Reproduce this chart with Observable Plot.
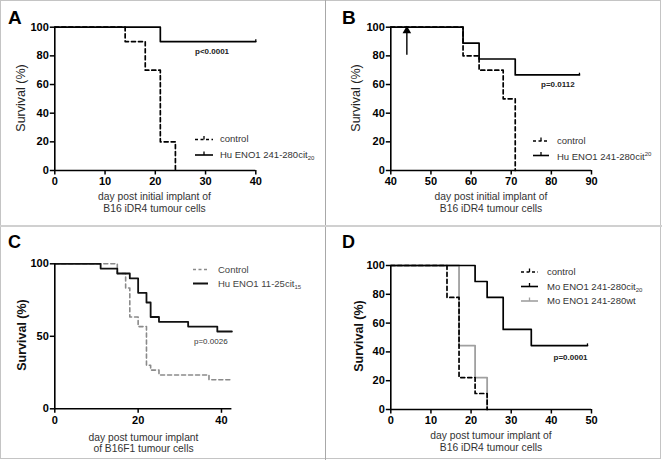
<!DOCTYPE html>
<html><head><meta charset="utf-8">
<script src="https://cdn.jsdelivr.net/npm/d3@7"></script>
<script src="https://cdn.jsdelivr.net/npm/@observablehq/plot@0.6"></script>
<style>
body{margin:0;background:#fff;}
#fig{position:relative;width:662px;height:460px;overflow:hidden;background:#fff;font-family:"Liberation Sans",Arial,Helvetica,sans-serif;}
.abs{position:absolute;white-space:nowrap;line-height:1;}
.pnl{position:absolute;}
.pnl svg{display:block;overflow:visible;}
</style></head><body><div id="fig"></div>
<script>
// ---------- DATA ----------
// Panel A
const aControlDay = [0, 14, 18, 21, 24];
const aControlSurv = [100, 90, 70, 20, 0];
const aTreatDay = [0, 21, 40];
const aTreatSurv = [100, 90, 90];
const aXTicks = [0, 10, 20, 30, 40];
const aYTicks = [0, 20, 40, 60, 80, 100];
const aLegend = ["control", "Hu ENO1 241-280cit"];
const aP = "p<0.0001";
const abXTitle = ["day post initial implant of", "B16 iDR4 tumour cells"];

// Panel B
const bControlDay = [40, 58, 62, 68, 71];
const bControlSurv = [100, 80, 70, 50, 0];
const bTreatDay = [40, 58, 62, 71, 87];
const bTreatSurv = [100, 88.9, 77.8, 66.7, 66.7];
const bXTicks = [40, 50, 60, 70, 80, 90];
const bYTicks = [0, 20, 40, 60, 80, 100];
const bArrowDay = 44, bArrowFrom = 84, bArrowTo = 100;
const bLegend = ["control", "Hu ENO1 241-280cit"];
const bP = "p=0.0112";

// Panel C
const cControlDay = [0, 15, 17, 18, 20, 22, 23, 25, 37, 42.5];
const cControlSurv = [100, 93.3, 83.3, 63.3, 56.7, 30, 26.7, 23.3, 20, 20];
const cTreatDay = [0, 11, 15, 18, 20, 22, 23, 25, 32, 39, 42.5];
const cTreatSurv = [100, 96.7, 93.3, 90, 80, 73.3, 63.3, 60, 56.7, 53.3, 53.3];
const cXTicks = [0, 20, 40];
const cYTicks = [0, 50, 100];
const cLegend = ["Control", "Hu ENO1 11-25cit"];
const cP = "p=0.0026";
const cXTitle = ["day post tumour implant", "of B16F1 tumour cells"];

// Panel D
const dControlDay = [0, 14, 17, 21, 24];
const dControlSurv = [100, 77.8, 22.2, 11.1, 0];
const dCitDay = [0, 21, 24, 28, 35, 49];
const dCitSurv = [100, 88.9, 77.8, 55.6, 44.4, 44.4];
const dWtDay = [0, 17, 21, 24];
const dWtSurv = [100, 44.4, 22.2, 0];
const dXTicks = [0, 10, 20, 30, 40, 50];
const dYTicks = [0, 20, 40, 60, 80, 100];
const dLegend = ["control", "Mo ENO1 241-280cit", "Mo ENO1 241-280wt"];
const dP = "p=0.0001";
const dXTitle = ["day post tumour implant of", "B16 iDR4 tumour cells"];

const yTitle = "Survival (%)";
const letters = ["A", "B", "C", "D"];

// ---------- HELPERS ----------
const FONT = '"Liberation Sans", Arial, Helvetica, sans-serif';
const fig = d3.select("#fig");
const rows = (days, surv) => days.map((d, i) => ({x: d, y: surv[i]}));
const censorTick = {draw(ctx, size) { const l = Math.sqrt(size / Math.PI); ctx.moveTo(0, 0); ctx.lineTo(0, -l); }};

function makePanel(cfg) {
  const [L, T, W, H] = cfg.box;
  const [x0, y0, x1, y1] = cfg.area;
  const marks = [];
  for (const s of cfg.series) {
    marks.push(Plot.line(rows(s.days, s.surv), {
      x: "x", y: "y", curve: "step-after", stroke: s.color, strokeWidth: s.width || 1.7,
      strokeDasharray: s.dash || null
    }));
  }
  for (const s of cfg.series) {
    if (s.censor) {
      const n = s.days.length - 1;
      marks.push(Plot.dot([{x: s.days[n], y: s.surv[n]}], {x: "x", y: "y", symbol: censorTick, r: 2.2, stroke: s.color, strokeWidth: 1.3, fill: "none"}));
    }
  }
  if (cfg.extra) marks.push(...cfg.extra);
  marks.push(Plot.ruleY([0], {x1: cfg.xDomain[0], x2: cfg.xDomain[1], stroke: "black", strokeWidth: 1.6}));
  marks.push(Plot.ruleX([cfg.xDomain[0]], {y1: 0, y2: 100, stroke: "black", strokeWidth: 1.6}));
  marks.push(Plot.axisX({ticks: cfg.xTicks, tickSize: 4.5, tickPadding: 2.5, fontSize: 11, fontWeight: "bold", fill: "black", stroke: "black", strokeWidth: 1.5, label: null, tickFormat: d => d}));
  marks.push(Plot.axisY({ticks: cfg.yTicks, tickSize: 4.5, tickPadding: 1.5, fontSize: 11, fontWeight: "bold", fill: "black", stroke: "black", strokeWidth: 1.5, label: null, tickFormat: d => d}));
  const svg = Plot.plot({
    width: W, height: H,
    marginLeft: x0 - L, marginRight: L + W - x1, marginTop: y0 - T, marginBottom: T + H - y1,
    x: {domain: cfg.xDomain}, y: {domain: [0, 100]},
    style: {fontFamily: FONT, fontSize: "11px", fontWeight: "bold", color: "black", background: "transparent", overflow: "visible"},
    marks
  });
  fig.append("div").attr("class", "pnl").style("left", L + "px").style("top", T + "px").node().appendChild(svg);
}

function txt(html, x, y, o = {}) {
  fig.append("div").attr("class", "abs").html(html)
    .style("left", x + "px").style("top", y + "px")
    .style("font-size", (o.size || 10) + "px").style("font-weight", o.weight || "normal")
    .style("color", o.color || "#222")
    .style("transform", `translate(${o.center ? "-50%" : "0"},-50%)${o.rotate ? " rotate(-90deg)" : ""}`);
}
const sub = s => `<span style="font-size:6px;vertical-align:-2px">${s}</span>`;
const sup = s => `<span style="font-size:6px;vertical-align:4px">${s}</span>`;

const ov = fig.append("svg").attr("width", 662).attr("height", 460).style("position", "absolute").style("left", 0).style("top", 0).style("pointer-events", "none");
function sample(xa, xb, y, o) {
  ov.append("line").attr("x1", xa).attr("x2", xb).attr("y1", y).attr("y2", y)
    .attr("stroke", o.color).attr("stroke-width", o.width || 1.6).attr("stroke-dasharray", o.dash || null);
  if (o.tick) ov.append("line").attr("x1", (xa + xb) / 2).attr("x2", (xa + xb) / 2).attr("y1", y).attr("y2", y - 3.5)
    .attr("stroke", o.color).attr("stroke-width", 1.3);
}

// ---------- BORDERS ----------
fig.append("div").style("position", "absolute").style("left", "0px").style("top", "0px").style("width", "659px").style("height", "457px").style("border", "1.5px solid #c4c4c4");
fig.append("div").style("position", "absolute").style("left", "325px").style("top", "0px").style("width", "1px").style("height", "460px").style("background", "#a8a8a8");
fig.append("div").style("position", "absolute").style("left", "0px").style("top", "225px").style("width", "662px").style("height", "2px").style("background", "#d0d0d0");

// ---------- PANELS ----------
makePanel({
  box: [2, 2, 323, 223], area: [54.3, 26.7, 255.3, 170],
  xDomain: [0, 40], xTicks: aXTicks, yTicks: aYTicks,
  series: [
    {days: aControlDay, surv: aControlSurv, color: "black", dash: "4,3"},
    {days: aTreatDay, surv: aTreatSurv, color: "black", censor: true}
  ]
});
makePanel({
  box: [326, 2, 334, 223], area: [390.3, 26.7, 591, 170],
  xDomain: [40, 90], xTicks: bXTicks, yTicks: bYTicks,
  series: [
    {days: bControlDay, surv: bControlSurv, color: "black", dash: "4,3"},
    {days: bTreatDay, surv: bTreatSurv, color: "black", censor: true}
  ],
  extra: [
    Plot.ruleX([{x: bArrowDay, y1: bArrowFrom, y2: bArrowTo}], {x: "x", y1: "y1", y2: "y2", stroke: "black", strokeWidth: 1.4, insetTop: 5}),
    Plot.dot([{x: bArrowDay, y: bArrowTo}], {x: "x", y: "y", symbol: "triangle", r: 3.2, fill: "black", stroke: "none", dy: 3.5})
  ]
});
makePanel({
  box: [2, 227, 323, 231], area: [54.3, 263.3, 231.4, 408.3],
  xDomain: [0, 42.5], xTicks: cXTicks, yTicks: cYTicks,
  series: [
    {days: cControlDay, surv: cControlSurv, color: "#8a8a8a", dash: "4,3", width: 1.6},
    {days: cTreatDay, surv: cTreatSurv, color: "#111", width: 1.8}
  ]
});
makePanel({
  box: [326, 227, 334, 231], area: [390.3, 265, 591, 409],
  xDomain: [0, 50], xTicks: dXTicks, yTicks: dYTicks,
  series: [
    {days: dWtDay, surv: dWtSurv, color: "#a0a0a0", width: 1.8},
    {days: dControlDay, surv: dControlSurv, color: "black", dash: "4,3"},
    {days: dCitDay, surv: dCitSurv, color: "black", censor: true}
  ]
});

// ---------- TEXT ----------
txt(letters[0], 8, 17, {size: 19, weight: "bold", color: "#000"});
txt(letters[1], 342, 17, {size: 19, weight: "bold", color: "#000"});
txt(letters[2], 8, 242, {size: 18, weight: "bold", color: "#000"});
txt(letters[3], 342, 242, {size: 18, weight: "bold", color: "#000"});

txt(yTitle, 21, 98.3, {size: 12.5, center: true, rotate: true, color: "#222"});
txt(yTitle, 356, 98.3, {size: 12.5, center: true, rotate: true, color: "#222"});
txt(yTitle, 21.5, 335, {size: 12.5, weight: "bold", center: true, rotate: true, color: "#111"});
txt(yTitle, 359, 336, {size: 12.5, weight: "bold", center: true, rotate: true, color: "#111"});

txt(abXTitle[0], 154.5, 197, {size: 10.3, center: true, color: "#333"});
txt(abXTitle[1], 154.5, 208.5, {size: 10.3, center: true, color: "#333"});
txt(abXTitle[0], 491, 197, {size: 10.3, center: true, color: "#333"});
txt(abXTitle[1], 491, 208.5, {size: 10.3, center: true, color: "#333"});
txt(cXTitle[0], 143.5, 437.5, {size: 10.3, center: true, color: "#333"});
txt(cXTitle[1], 143.5, 448.8, {size: 10.3, center: true, color: "#333"});
txt(dXTitle[0], 491, 436, {size: 10.3, center: true, color: "#333"});
txt(dXTitle[1], 491, 447.5, {size: 10.3, center: true, color: "#333"});

sample(195, 213, 139.5, {color: "black", dash: "3,2.5", tick: true});
sample(195, 213, 155, {color: "black", tick: true});
txt(aLegend[0], 220, 139, {size: 9.5, color: "#333"});
txt(aLegend[1] + sub("20"), 220, 155, {size: 9.5, color: "#333"});

sample(533, 549, 141, {color: "black", dash: "3,2.5", tick: true});
sample(533, 549, 155.5, {color: "black", tick: true});
txt(bLegend[0], 557, 141, {size: 9.5, color: "#333"});
txt(bLegend[1] + sup("20"), 557, 155.5, {size: 9.5, color: "#333"});

sample(193, 208, 269.5, {color: "#8a8a8a", dash: "3,2.5"});
sample(193, 208, 283.5, {color: "#111", width: 2});
txt(cLegend[0], 218, 269.5, {size: 9.5, color: "#444"});
txt(cLegend[1] + sub("15"), 218, 283.5, {size: 9.5, color: "#444"});

sample(521, 538, 272, {color: "black", dash: "3,2.5", tick: true});
sample(521, 538, 286.5, {color: "black", tick: true});
sample(521, 538, 301, {color: "#a0a0a0", tick: true});
txt(dLegend[0], 547, 272, {size: 9.5, color: "#333"});
txt(dLegend[1] + sub("20"), 547, 286.5, {size: 9.5, color: "#333"});
txt(dLegend[2], 547, 301, {size: 9.5, color: "#333"});

txt(aP, 195, 52, {size: 8, weight: "bold", color: "#222"});
txt(bP, 541, 85, {size: 8, weight: "bold", color: "#222"});
txt(cP, 194, 342, {size: 8, color: "#333"});
txt(dP, 553.5, 358, {size: 8, weight: "bold", color: "#222"});
</script></body></html>
